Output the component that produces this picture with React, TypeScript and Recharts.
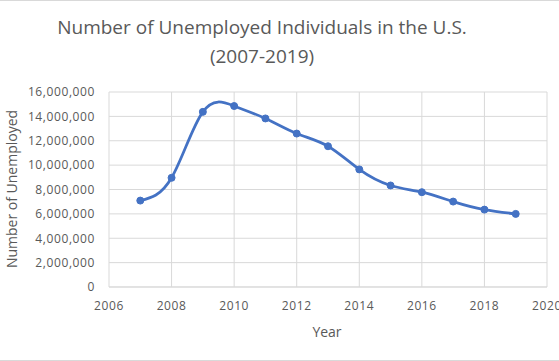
import React from 'react';
import { LineChart, Line, XAxis, YAxis, CartesianGrid } from 'recharts';

const years = [2007, 2008, 2009, 2010, 2011, 2012, 2013, 2014, 2015, 2016, 2017, 2018, 2019];
const unemployed = [
  7090000, 8960000, 14370000, 14850000, 13830000, 12590000, 11550000,
  9650000, 8330000, 7780000, 7010000, 6350000, 6000000,
];
const xTicks = [2006, 2008, 2010, 2012, 2014, 2016, 2018, 2020];
const yTicks = [0, 2000000, 4000000, 6000000, 8000000, 10000000, 12000000, 14000000, 16000000];

const chartData = years.map((year, i) => ({ year, value: unemployed[i] }));

const FONT = '"Open Sans", sans-serif';
const TEXT = '#595959';
const GRID = '#d9d9d9';

export default function App() {
  const tick = { fill: TEXT, fontSize: 12, fontFamily: FONT, letterSpacing: 0.6 };

  return (
    <div
      style={{
        position: 'absolute',
        left: 0,
        top: 0,
        width: 559,
        height: 361,
        background: '#fff',
        borderTop: `1px solid ${GRID}`,
        borderBottom: `1px solid ${GRID}`,
        boxSizing: 'border-box',
        fontFamily: FONT,
        color: TEXT,
      }}
    >
      {/* title */}
      <div
        style={{
          position: 'absolute',
          left: 0,
          width: 524,
          top: 12,
          textAlign: 'center',
          fontSize: 19,
          lineHeight: '29px',
        }}
      >
        Number of Unemployed Individuals in the U.S.
        <br />
        (2007-2019)
      </div>

      {/* axis titles */}
      <div
        style={{
          position: 'absolute',
          left: 12 - 100,
          top: 188 - 10,
          width: 200,
          height: 20,
          lineHeight: '20px',
          textAlign: 'center',
          fontSize: 14,
          transform: 'rotate(-90deg)',
        }}
      >
        Number of Unemployed
      </div>
      <div
        style={{
          position: 'absolute',
          left: 327 - 50,
          top: 321,
          width: 100,
          textAlign: 'center',
          fontSize: 14,
          lineHeight: '20px',
        }}
      >
        Year
      </div>

      <LineChart
        width={559}
        height={360}
        data={chartData}
        margin={{ top: 91, right: 12, bottom: 44, left: 9 }}
        style={{ position: 'absolute', left: 0, top: 0 }}
      >
        <CartesianGrid stroke={GRID} />
        <XAxis
          dataKey="year"
          type="number"
          domain={[2006, 2020]}
          ticks={xTicks}
          tick={tick}
          tickLine={false}
          tickSize={0}
          tickMargin={14}
          axisLine={{ stroke: GRID }}
          height={30}
          interval={0}
        />
        <YAxis
          domain={[0, 16000000]}
          ticks={yTicks}
          tick={tick}
          tickLine={false}
          tickSize={0}
          tickMargin={14}
          axisLine={false}
          width={100}
          interval={0}
          tickFormatter={(v: number) => v.toLocaleString('en-US')}
        />
        <Line
          dataKey="value"
          type="natural"
          stroke="#4472C4"
          strokeWidth={2.75}
          dot={{ r: 3.5, fill: '#4472C4', stroke: '#4472C4', strokeWidth: 1 }}
          isAnimationActive={false}
        />
      </LineChart>
    </div>
  );
}
